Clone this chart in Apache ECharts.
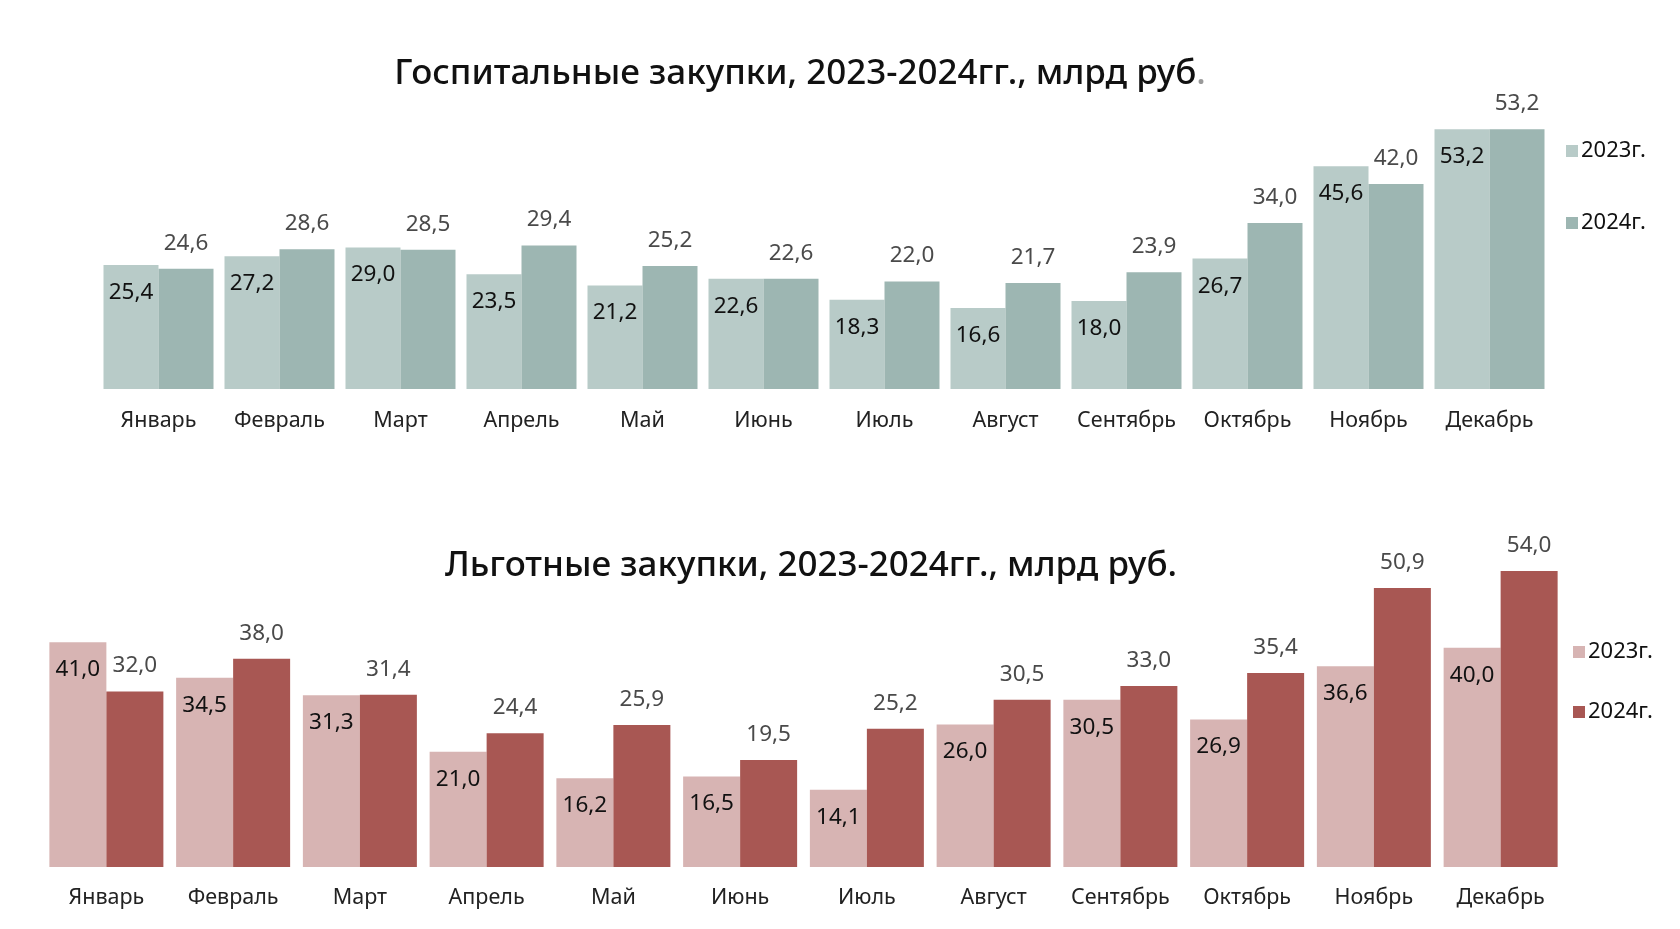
<!DOCTYPE html>
<html>
<head>
<meta charset="utf-8">
<script src="https://cdn.jsdelivr.net/npm/echarts@6/dist/echarts.min.js"></script>
<style>
  html, body { margin: 0; padding: 0; background: #fff; }
  #top { width: 1680px; height: 465px; }
  #bottom { width: 1680px; height: 464px; }
</style>
</head>
<body>
<div id="top"></div>
<div id="bottom"></div>
<script>
// данные, млрд руб.
var months = ['Январь', 'Февраль', 'Март', 'Апрель', 'Май', 'Июнь', 'Июль', 'Август', 'Сентябрь', 'Октябрь', 'Ноябрь', 'Декабрь'];
var yearNames = ['2023г.', '2024г.'];
var hosp2023 = [25.4, 27.2, 29.0, 23.5, 21.2, 22.6, 18.3, 16.6, 18.0, 26.7, 45.6, 53.2];
var hosp2024 = [24.6, 28.6, 28.5, 29.4, 25.2, 22.6, 22.0, 21.7, 23.9, 34.0, 42.0, 53.2];
var lgot2023 = [41.0, 34.5, 31.3, 21.0, 16.2, 16.5, 14.1, 26.0, 30.5, 26.9, 36.6, 40.0];
var lgot2024 = [32.0, 38.0, 31.4, 24.4, 25.9, 19.5, 25.2, 30.5, 33.0, 35.4, 50.9, 54.0];

var FONT = '"Noto Sans", sans-serif';

function fmt(p) {
  return p.value.toFixed(1).replace('.', ',');
}

function buildOption(cfg) {
  return {
    animation: false,
    textStyle: { fontFamily: FONT },
    title: {
      text: cfg.title,
      left: cfg.titleX,
      top: cfg.titleTop,
      textAlign: 'center',
      textStyle: {
        fontFamily: FONT,
        fontSize: 35,
        fontWeight: 500,
        color: '#111',
        rich: {
          dot: { fontFamily: FONT, fontSize: 35, fontWeight: 500, color: '#9a9a9a' }
        }
      }
    },
    legend: {
      orient: 'vertical',
      left: cfg.legendX,
      top: cfg.legendTop,
      itemWidth: 12,
      itemHeight: 12,
      itemGap: cfg.legendGap,
      icon: 'rect',
      textStyle: { fontFamily: FONT, fontSize: 22, color: '#111', padding: [0, 0, 0, -2] },
      data: yearNames
    },
    grid: {
      left: cfg.grid.left,
      width: cfg.grid.width,
      top: cfg.grid.top,
      height: cfg.grid.height
    },
    xAxis: {
      type: 'category',
      data: months,
      axisLine: { show: false },
      axisTick: { show: false },
      axisLabel: {
        interval: 0,
        margin: cfg.labelMargin,
        fontFamily: FONT,
        fontSize: 21.5,
        color: '#222'
      }
    },
    yAxis: {
      type: 'value',
      min: 0,
      max: 60,
      show: false,
      splitLine: { show: false }
    },
    series: [
      {
        name: yearNames[0],
        type: 'bar',
        data: cfg.a,
        barWidth: cfg.barWidth,
        barGap: '0%',
        itemStyle: { color: cfg.colors[0] },
        label: {
          show: true,
          position: 'insideTop',
          distance: 16,
          formatter: fmt,
          fontFamily: FONT,
          fontSize: 22.5,
          color: '#111'
        }
      },
      {
        name: yearNames[1],
        type: 'bar',
        data: cfg.b,
        barWidth: cfg.barWidth,
        itemStyle: { color: cfg.colors[1] },
        label: {
          show: true,
          position: 'top',
          distance: 14,
          formatter: fmt,
          fontFamily: FONT,
          fontSize: 22.5,
          color: '#4a4a4a'
        }
      }
    ]
  };
}

var topChart = echarts.init(document.getElementById('top'));
topChart.setOption(buildOption({
  title: 'Госпитальные закупки, 2023-2024гг., млрд руб{dot|.}',
  titleX: 795,
  titleTop: 52,
  legendX: 1561,
  legendTop: 135,
  legendGap: 50,
  grid: { left: 98, width: 1452, top: 96, height: 293 },
  labelMargin: 21,
  barWidth: 55,
  colors: ['#b8cbc8', '#9db6b2'],
  a: hosp2023,
  b: hosp2024
}));

var bottomChart = echarts.init(document.getElementById('bottom'));
bottomChart.setOption(buildOption({
  title: 'Льготные закупки, 2023-2024гг., млрд руб.',
  titleX: 806,
  titleTop: 79,
  legendX: 1568,
  legendTop: 171,
  legendGap: 38,
  grid: { left: 43, width: 1521, top: 73, height: 329 },
  labelMargin: 20,
  barWidth: 57,
  colors: ['#d7b4b3', '#a85753'],
  a: lgot2023,
  b: lgot2024
}));
</script>
</body>
</html>
